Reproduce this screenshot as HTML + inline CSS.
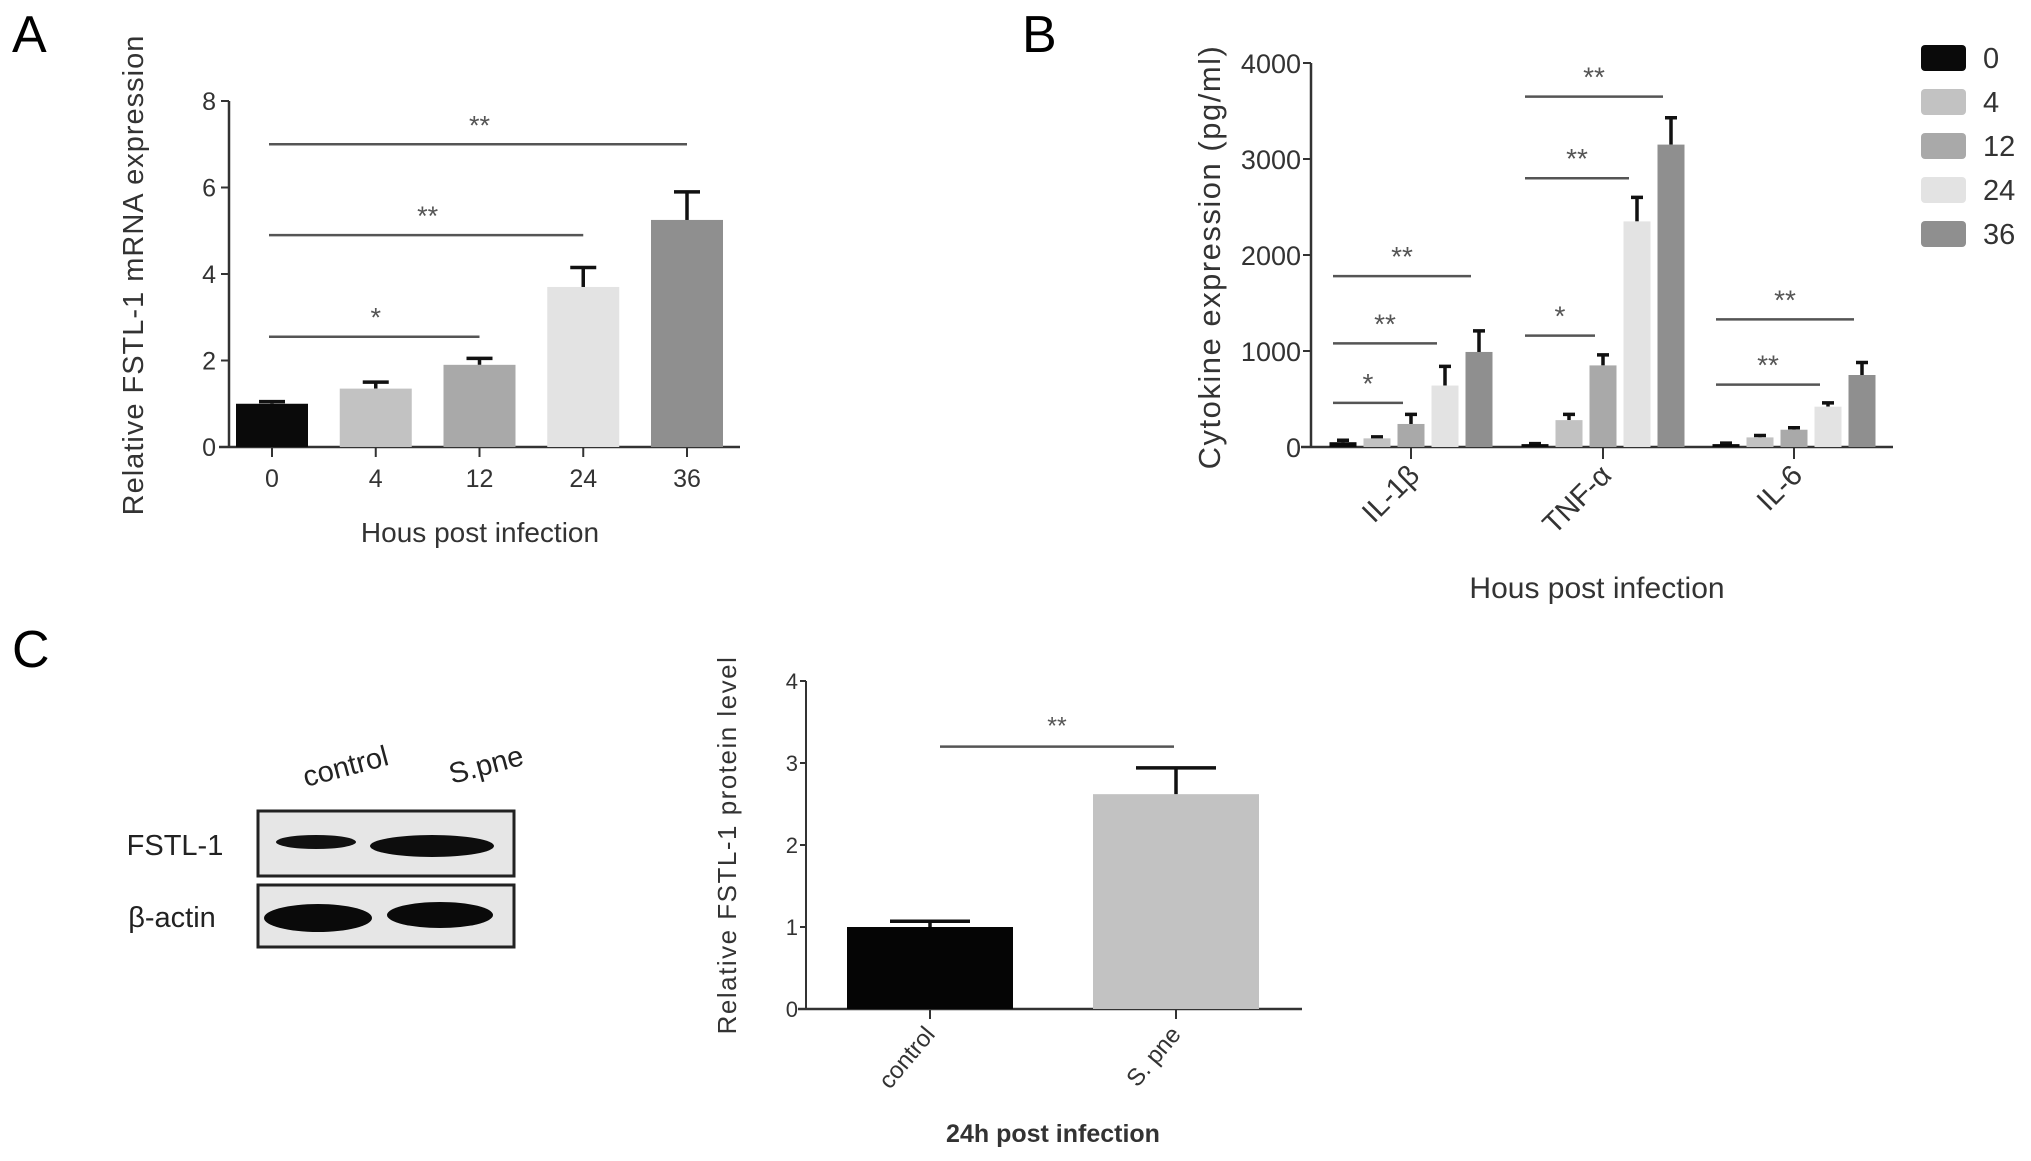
<!DOCTYPE html>
<html><head><meta charset="utf-8"><style>
html,body{margin:0;padding:0;background:#fff;}
svg{display:block;font-family:"Liberation Sans",sans-serif;}
</style></head><body>
<svg id="fig" width="2031" height="1161" viewBox="0 0 2031 1161">
<text x="12" y="52" font-size="52">A</text>
<text x="1022" y="52" font-size="52">B</text>
<text x="12" y="667" font-size="52">C</text>
<g id="ga"></g>
<g id="gb"></g>
<g id="blot">
  <text x="175" y="855" font-size="29" text-anchor="middle" fill="#222">FSTL-1</text>
  <text x="172" y="927" font-size="29" text-anchor="middle" fill="#222">β-actin</text>
  <text x="0" y="0" font-size="29" fill="#222" transform="translate(306,787) rotate(-15)">control</text>
  <text x="0" y="0" font-size="29" fill="#222" transform="translate(452,784) rotate(-15)">S.pne</text>
  <rect x="258" y="811" width="256" height="65" fill="#e6e6e6" stroke="#222" stroke-width="3"/>
  <rect x="258" y="885" width="256" height="62" fill="#e6e6e6" stroke="#222" stroke-width="3"/>
  <ellipse cx="316" cy="842" rx="40" ry="7" fill="#111"/>
  <ellipse cx="432" cy="846" rx="62" ry="11" fill="#0d0d0d"/>
  <ellipse cx="318" cy="918" rx="54" ry="14" fill="#0a0a0a"/>
  <ellipse cx="440" cy="915" rx="53" ry="13" fill="#0a0a0a"/>
</g>
<g id="gc"></g>
</svg>
<script>
const NS="http://www.w3.org/2000/svg";
function mk(p,tag,at,txt){const e=document.createElementNS(NS,tag);for(const k in at)e.setAttribute(k,at[k]);if(txt!==undefined)e.textContent=txt;p.appendChild(e);return e;}
const ax="#333";

// ---------- Panel A data ----------
const aCats=["0","4","12","24","36"];
const aVals=[1.0,1.35,1.9,3.7,5.25];
const aErrs=[0.05,0.15,0.15,0.45,0.65];
const aTicks=[0,2,4,6,8];
const aColors=["#0a0a0a","#c2c2c2","#a9a9a9","#e3e3e3","#8f8f8f"];
const aSig=[{from:0,to:2,y:2.55,t:"*"},{from:0,to:3,y:4.9,t:"**"},{from:0,to:4,y:7.0,t:"**"}];

// ---------- Panel B data ----------
const bGroups=["IL-1β","TNF-α","IL-6"];
const bSeries=["0","4","12","24","36"];
const bIL1=[50,90,240,640,990];
const bTNF=[30,280,850,2350,3150];
const bIL6=[30,100,180,420,750];
const bIL1e=[20,15,100,200,220];
const bTNFe=[5,60,110,250,280];
const bIL6e=[10,20,20,40,130];
const bTicks=[0,1000,2000,3000,4000];
const bSig=[{g:0,from:0,to:2,y:460,t:"*"},{g:0,from:0,to:3,y:1080,t:"**"},{g:0,from:0,to:4,y:1780,t:"**"},
 {g:1,from:0,to:2,y:1160,t:"*"},{g:1,from:0,to:3,y:2800,t:"**"},{g:1,from:0,to:4,y:3650,t:"**"},
 {g:2,from:0,to:3,y:650,t:"**"},{g:2,from:0,to:4,y:1330,t:"**"}];

// ---------- Panel C data ----------
const cCats=["control","S. pne"];
const cVals=[1.0,2.62];
const cErrs=[0.07,0.32];
const cTicks=[0,1,2,3,4];
const cColors=["#050505","#c2c2c2"];
const cSig=[{from:0,to:1,y:3.2,t:"**"}];

// ===== Panel A =====
(function(){
 const g=document.getElementById('ga');
 const x0=229,x1=740,yb=447,yt=101,max=8;
 const Y=v=>yb-(v/max)*(yb-yt);
 const X=i=>272+i*103.75;
 const bw=72;
 mk(g,'line',{x1:x0,y1:yt,x2:x0,y2:yb,stroke:ax,'stroke-width':2.5});
 mk(g,'line',{x1:x0-10,y1:yb,x2:x1,y2:yb,stroke:ax,'stroke-width':2.5});
 aTicks.forEach(t=>{
  const l=mk(g,'line',{x1:x0-8,y1:Y(t),x2:x0,y2:Y(t),stroke:ax,'stroke-width':2});
  
  const tx=mk(g,'text',{x:x0-13,y:Y(t)+9,'font-size':25,'text-anchor':'end',fill:'#333'},t);
  
  
 });
 aCats.forEach((c,i)=>{
  const cx=X(i);
  const er=mk(g,'path',{d:`M${cx} ${Y(aVals[i])}V${Y(aVals[i]+aErrs[i])}M${cx-13} ${Y(aVals[i]+aErrs[i])}H${cx+13}`,stroke:'#111','stroke-width':3.5,fill:'none'});
  
  const r=mk(g,'rect',{x:cx-bw/2,y:Y(aVals[i]),width:bw,height:yb-Y(aVals[i]),fill:aColors[i]});
  
  
  mk(g,'line',{x1:cx,y1:yb,x2:cx,y2:yb+10,stroke:ax,'stroke-width':2});
  const tx=mk(g,'text',{x:cx,y:yb+40,'font-size':25,'text-anchor':'middle',fill:'#333'},c);
  
  
 });
 aSig.forEach(s=>{
  const l=mk(g,'line',{x1:X(s.from)-3,y1:Y(s.y),x2:X(s.to),y2:Y(s.y),stroke:'#555','stroke-width':2.5});
  
  const t=mk(g,'text',{x:(X(s.from)+X(s.to))/2,y:Y(s.y)-10,'font-size':27,'text-anchor':'middle',fill:'#555'},s.t);
  
 });
 const yl=mk(g,'text',{x:0,y:0,'font-size':29,'text-anchor':'middle',fill:'#333','letter-spacing':'1',transform:'translate(143,275) rotate(-90)'},'Relative FSTL-1 mRNA expression');
 
 const xl=mk(g,'text',{x:480,y:542,'font-size':28,'text-anchor':'middle',fill:'#333'},'Hous post infection');
 
})();

// ===== Panel B =====
(function(){
 const g=document.getElementById('gb');
 const x0=1311,x1=1893,yb=447,yt=63,max=4000;
 const Y=v=>yb-(v/max)*(yb-yt);
 const GX=[1411,1603,1794];
 const sp=34,bw=27;
 const X=(gi,si)=>GX[gi]+(si-2)*sp;
 const vals=[bIL1,bTNF,bIL6],errs=[bIL1e,bTNFe,bIL6e];
 mk(g,'line',{x1:x0,y1:yt,x2:x0,y2:yb,stroke:ax,'stroke-width':2.5});
 mk(g,'line',{x1:x0-10,y1:yb,x2:x1,y2:yb,stroke:ax,'stroke-width':2.5});
 bTicks.forEach(t=>{
  mk(g,'line',{x1:x0-8,y1:Y(t),x2:x0,y2:Y(t),stroke:ax,'stroke-width':2});
  const tx=mk(g,'text',{x:x0-10,y:Y(t)+10,'font-size':27,'text-anchor':'end',fill:'#333'},t);
  
  
 });
 bGroups.forEach((gn,gi)=>{
  bSeries.forEach((s,si)=>{
   const cx=X(gi,si),v=vals[gi][si],e=errs[gi][si];
   const er=mk(g,'path',{d:`M${cx} ${Y(v)}V${Y(v+e)}M${cx-6} ${Y(v+e)}H${cx+6}`,stroke:'#111','stroke-width':3.5,fill:'none'});
   
   const r=mk(g,'rect',{x:cx-bw/2,y:Y(v),width:bw,height:yb-Y(v),fill:aColors[si]});
   
   
  });
  mk(g,'line',{x1:GX[gi],y1:yb,x2:GX[gi],y2:yb+12,stroke:ax,'stroke-width':2});
  const tx=mk(g,'text',{x:0,y:0,'font-size':29,'text-anchor':'end',fill:'#333',transform:`translate(${GX[gi]+10},${yb+30}) rotate(-45)`},gn);
  
  
 });
 bSig.forEach(s=>{
  const a=X(s.g,s.from)-10,b=X(s.g,s.to)-8;
  const l=mk(g,'line',{x1:a,y1:Y(s.y),x2:b,y2:Y(s.y),stroke:'#555','stroke-width':2.5});
  
  const t=mk(g,'text',{x:(a+b)/2,y:Y(s.y)-10,'font-size':28,'text-anchor':'middle',fill:'#555'},s.t);
  
 });
 bSeries.forEach((s,si)=>{
  const y=45+si*44;
  const r=mk(g,'rect',{x:1921,y:y,width:45,height:26,rx:4,fill:aColors[si]});
  
  
  const t=mk(g,'text',{x:1983,y:y+23,'font-size':29,fill:'#333'},s);
  
  
 });
 const yl=mk(g,'text',{x:0,y:0,'font-size':31,'text-anchor':'middle',fill:'#333','letter-spacing':'1.5',transform:'translate(1220,257) rotate(-90)'},'Cytokine expression (pg/ml)');
 
 const xl=mk(g,'text',{x:1597,y:598,'font-size':30,'text-anchor':'middle',fill:'#333'},'Hous post infection');
 
})();

// ===== Panel C =====
(function(){
 const g=document.getElementById('gc');
 const x0=806,x1=1302,yb=1009,yt=681,max=4;
 const Y=v=>yb-(v/max)*(yb-yt);
 const CX=[930,1176];const bw=166;
 mk(g,'line',{x1:x0,y1:yt,x2:x0,y2:yb,stroke:ax,'stroke-width':2});
 mk(g,'line',{x1:x0-8,y1:yb,x2:x1,y2:yb,stroke:ax,'stroke-width':2.5});
 cTicks.forEach(t=>{
  mk(g,'line',{x1:x0-6,y1:Y(t),x2:x0,y2:Y(t),stroke:ax,'stroke-width':2});
  const tx=mk(g,'text',{x:x0-8,y:Y(t)+8,'font-size':22,'text-anchor':'end',fill:'#333'},t);
  
  
 });
 cCats.forEach((c,i)=>{
  const cx=CX[i],v=cVals[i],e=cErrs[i];
  const r=mk(g,'rect',{x:cx-bw/2,y:Y(v),width:bw,height:yb-Y(v),fill:cColors[i]});
  
  
  const er=mk(g,'path',{d:`M${cx} ${Y(v)}V${Y(v+e)}M${cx-40} ${Y(v+e)}H${cx+40}`,stroke:'#111','stroke-width':3.5,fill:'none'});
  
  mk(g,'line',{x1:cx,y1:yb,x2:cx,y2:yb+10,stroke:ax,'stroke-width':2});
  const tx=mk(g,'text',{x:0,y:0,'font-size':24,'text-anchor':'end',fill:'#333',transform:`translate(${cx+6},${yb+26}) rotate(-50)`},c);
  
  
 });
 cSig.forEach(s=>{
  const a=CX[s.from]+10,b=CX[s.to]-2;
  const l=mk(g,'line',{x1:a,y1:Y(s.y),x2:b,y2:Y(s.y),stroke:'#555','stroke-width':2.5});
  
  const t=mk(g,'text',{x:(a+b)/2,y:Y(s.y)-12,'font-size':25,'text-anchor':'middle',fill:'#555'},s.t);
  
 });
 const yl=mk(g,'text',{x:0,y:0,'font-size':26,'text-anchor':'middle',fill:'#333','letter-spacing':'1.5',transform:'translate(736,845) rotate(-90)'},'Relative FSTL-1 protein level');
 
 const xl=mk(g,'text',{x:1053,y:1142,'font-size':25,'font-weight':'bold','text-anchor':'middle',fill:'#333'},'24h post infection');
 
})();
</script>
</body></html>
